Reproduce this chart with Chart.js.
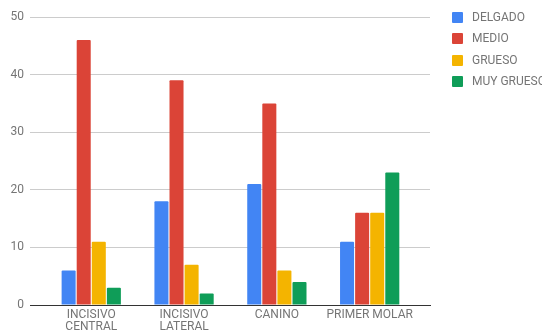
<!DOCTYPE html>
<html>
<head>
<meta charset="utf-8">
<script src="https://cdn.jsdelivr.net/npm/chart.js@4.4.0/dist/chart.umd.min.js"></script>
<style>
  html, body { margin: 0; padding: 0; background: #fff; }
  #wrap { position: relative; width: 542px; height: 335px; overflow: hidden; }
  #legend { position: absolute; left: 452px; top: 11px; font: 12px Roboto, sans-serif; color: #757575; }
  #legend .item { height: 21.33px; display: flex; align-items: flex-start; white-space: nowrap; }
  #legend .box { width: 11px; height: 11px; border-radius: 1px; margin-top: 1px; margin-right: 9px; }
  #legend .txt { line-height: 13px; }
</style>
</head>
<body>
<div id="wrap">
  <canvas id="myChart" width="542" height="335"></canvas>
  <div id="legend"></div>
</div>
<script>
var categories = [['INCISIVO', 'CENTRAL'], ['INCISIVO', 'LATERAL'], 'CANINO', 'PRIMER MOLAR']
var seriesNames = ['DELGADO', 'MEDIO', 'GRUESO', 'MUY GRUESO']
var delgado = [6, 18, 21, 11]
var medio = [46, 39, 35, 16]
var grueso = [11, 7, 6, 16]
var muyGrueso = [3, 2, 4, 23]
var yTicks = [0, 10, 20, 30, 40, 50]
var colors = ['#4285f4', '#db4437', '#f4b400', '#0f9d58']

function points(values) {
  return values.map((v, i) => ({ x: i, y: v }))
}

var ctx = document.getElementById('myChart').getContext('2d');
var chart = new Chart(ctx, {
  type: 'bar',
  data: {
    datasets: [delgado, medio, grueso, muyGrueso].map((vals, i) => ({
      label: seriesNames[i],
      data: points(vals),
      backgroundColor: colors[i],
      borderRadius: 1,
      categoryPercentage: 0.65,
      barPercentage: 0.93,
    }))
  },
  options: {
    responsive: false,
    animation: false,
    layout: { padding: { top: 17, right: 112, left: 0, bottom: 0 } },
    plugins: {
      legend: { display: false },
      tooltip: { enabled: false }
    },
    scales: {
      x: {
        type: 'linear',
        offset: false,
        min: -0.66,
        max: 3.65,
        afterBuildTicks: scale => {
          scale.ticks = categories.map((c, i) => ({ value: i }))
        },
        afterFit: scale => { scale.height = 30 },
        grid: { display: false, drawTicks: false, offset: false },
        border: { display: true, color: '#333', width: 1 },
        ticks: {
          autoSkip: false,
          maxRotation: 0,
          padding: 4,
          color: '#757575',
          font: { family: 'Roboto', size: 12, lineHeight: 1 },
          callback: v => categories[v]
        }
      },
      y: {
        min: 0,
        max: 50,
        afterBuildTicks: scale => {
          scale.ticks = yTicks.map(v => ({ value: v }))
        },
        afterFit: scale => { scale.width = 30 },
        grid: {
          drawTicks: false,
          color: c => c.tick && c.tick.value === 0 ? 'rgba(0,0,0,0)' : '#cccccc'
        },
        border: { display: false },
        ticks: {
          padding: 6,
          color: '#757575',
          font: { family: 'Roboto', size: 12 }
        }
      }
    }
  }
});

// legend as html, built from the datasets
var legendEl = document.getElementById('legend')
chart.data.datasets.forEach(ds => {
  var item = document.createElement('div')
  item.className = 'item'
  item.innerHTML = '<span class="box" style="background:' + ds.backgroundColor + '"></span><span class="txt">' + ds.label + '</span>'
  legendEl.appendChild(item)
})
</script>
</body>
</html>
